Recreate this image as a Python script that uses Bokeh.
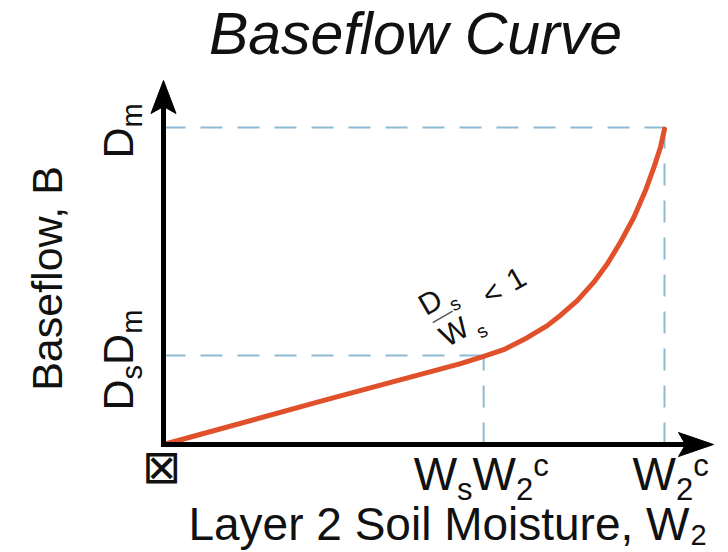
import math
from bokeh.plotting import figure
from bokeh.models import Range1d
from bokeh.core.properties import value
from bokeh.embed import file_html
from bokeh.resources import INLINE

# ---------------- data (x as a fraction of W2c, y as a fraction of Dm) ----------------
soil_moisture = [0.0, 0.32, 0.593, 0.639, 0.679, 0.726, 0.766, 0.792, 0.826, 0.859,
                 0.886, 0.912, 0.939, 0.962, 0.979, 0.992, 1.0]
baseflow = [0.0, 0.139, 0.255, 0.278, 0.299, 0.337, 0.375, 0.407, 0.454, 0.512,
            0.570, 0.638, 0.717, 0.801, 0.875, 0.938, 0.995]

ws_w2c = 0.639   # tick "WsW2c"
w2c = 1.0        # tick "W2c"
ds_dm = 0.281    # tick "DsDm"
dm = 1.0         # tick "Dm"

title_text = "Baseflow Curve"
x_title = "Layer 2 Soil Moisture, W"
x_title_sub = "2"
y_title = "Baseflow, B"
origin_label = "\u22a0"

# ---------------- layout ----------------
W, H = 728, 552
KX, KY = 501.0, 317.0        # pixels per data unit
ORX, ORY = 163.0, 444.0      # canvas pixel of the data origin
FONT = "Liberation Sans"
INK = "#111111"
CURVE = "#e0502a"
DASH = "#8fbad3"
BSH = 0.36                   # empirical baseline correction (em)

p = figure(width=W, height=H,
           x_range=Range1d(-ORX / KX, (W - ORX) / KX),
           y_range=Range1d(-(H - ORY) / KY, ORY / KY),
           output_backend="svg", toolbar_location=None, min_border=0,
           x_axis_location=None, y_axis_location=None)
p.xgrid.visible = False
p.ygrid.visible = False
p.outline_line_color = None
p.background_fill_color = "white"
p.border_fill_color = "white"


def at(x, y, px=0.0, py=0.0):
    """data point shifted by screen pixels (px right, py down)"""
    return x + px / KX, y - py / KY


def txt(x, y, px, py, s, size, angle=0.0, align="left", style="normal",
        font=FONT, color=INK):
    # alphabetic baseline, corrected by BSH em towards the glyph tops
    c = BSH * size
    px -= c * math.sin(angle)
    py -= c * math.cos(angle)
    pos = at(x, y, px, py)
    p.text(x=[pos[0]], y=[pos[1]], text=[s], angle=angle,
           text_font=value(font), text_font_size=value(f"{size}px"),
           text_align=align, text_baseline="alphabetic",
           text_font_style=style, text_color=color)


ADV = {"W": 0.944, "s": 0.5, "2": 0.556, "c": 0.5, "D": 0.722, "m": 0.833}


def composite(x, y, px, py, pieces, angle=0.0):
    """pieces: (text, font size, shift down in px) laid along the baseline"""
    ca, sa = math.cos(angle), math.sin(angle)
    u = 0.0
    for s, size, v in pieces:
        txt(x, y, px + u * ca + v * sa, py - u * sa + v * ca, s, size, angle=angle)
        u += ADV[s] * size


# ---------------- dashed guide lines ----------------
dash_kw = dict(line_color=DASH, line_width=2, line_dash="22 15")
p.line([0, ws_w2c], [ds_dm, ds_dm], **dash_kw)
p.line([ws_w2c, ws_w2c], [0, ds_dm], **dash_kw)
p.line([0, w2c], [dm, dm], **dash_kw)
p.line([w2c, w2c], [0, dm], **dash_kw)

# ---------------- curve ----------------
p.line(soil_moisture, baseflow, line_color=CURVE, line_width=5,
       line_cap="round", line_join="round")

# ---------------- axes with arrow heads ----------------
ax = [at(0, 0, -2.5, 0), at(0, 0, 528, 0)]
p.line([q[0] for q in ax], [q[1] for q in ax], line_color="black", line_width=5)
ay = [at(0, 0, 0, 2.5), at(0, 0, 0, -342)]
p.line([q[0] for q in ay], [q[1] for q in ay], line_color="black", line_width=5)

hx = [at(0, 0, 550, 0), at(0, 0, 515, -12), at(0, 0, 522, 0), at(0, 0, 515, 12)]
p.patch([q[0] for q in hx], [q[1] for q in hx], fill_color="black", line_color="black", line_width=1)
hy = [at(0, 0, 0, -364), at(0, 0, -12.5, -331), at(0, 0, 0, -338), at(0, 0, 12.5, -331)]
p.patch([q[0] for q in hy], [q[1] for q in hy], fill_color="black", line_color="black", line_width=1)

# ---------------- tick labels ----------------
txt(0, 0, -2, 39, origin_label, 47, align="center", font="DejaVu Sans")
composite(ws_w2c, 0, -70, 46, [("W", 46, 0), ("s", 31, 10), ("W", 46, 0), ("2", 31, 10), ("c", 31, -14)])
composite(w2c, 0, -32, 46, [("W", 46, 0), ("2", 31, 10), ("c", 31, -14)])
composite(0, dm, -30, 31, [("D", 43, 0), ("m", 29, 9)], angle=math.pi / 2)
composite(0, ds_dm, -30, 55, [("D", 43, 0), ("s", 29, 9), ("D", 43, 0), ("m", 29, 9)], angle=math.pi / 2)

# ---------------- axis titles and title ----------------
txt(0, 0, -101, -166, y_title, 43, angle=math.pi / 2, align="center")
txt(0, 0, 526, 96, x_title, 46, align="right")
txt(0, 0, 527, 101, x_title_sub, 29)
txt(0, 0, 252, -389, title_text, 59, align="center", style="italic")

# ---------------- Ds/Ws < 1 annotation (rotated 30 degrees) ----------------
rot = math.pi / 6
ca, sa = math.cos(rot), math.sin(rot)
bar_c = (-40, -38)   # fraction bar centre, pixels from the (WsW2c, DsDm) corner
ann = [("D", 30, -14.8, -9.5), ("s", 19, 11.8, 0.5), ("W", 30, -12.4, 28.3),
       ("s", 19, 21.6, 37.6), ("<", 30, 45.3, 13.6), ("1", 30, 73.8, 13.8)]
for s, size, u, v in ann:
    txt(ws_w2c, ds_dm, bar_c[0] + u * ca + v * sa, bar_c[1] - u * sa + v * ca,
        s, size, angle=rot)
bar = [at(ws_w2c, ds_dm, bar_c[0] + u * ca - 1 * sa, bar_c[1] - u * sa - 1 * ca) for u in (-12, 11)]
p.line([q[0] for q in bar], [q[1] for q in bar], line_color="#555555", line_width=1.5)

open("out.html", "w").write(file_html(p, INLINE))
